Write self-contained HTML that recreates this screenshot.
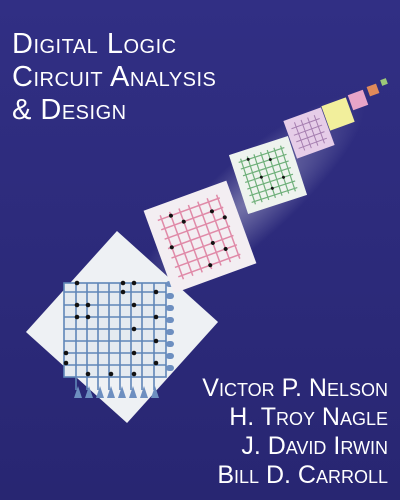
<!DOCTYPE html>
<html><head><meta charset="utf-8"><style>
html,body{margin:0;padding:0}
body{width:400px;height:500px;overflow:hidden;background:#2c2a7a;position:relative;font-family:"Liberation Serif",serif}
.t{position:absolute;color:#fff;font-variant:small-caps;white-space:nowrap}
#title{left:12px;top:28px;font-size:29px;line-height:33px;font-family:"Liberation Sans",sans-serif;letter-spacing:0.5px}
.au{right:12px;font-size:25px;font-family:"Liberation Sans",sans-serif;text-align:right}
</style></head><body>
<svg width="400" height="500" style="position:absolute;left:0;top:0">
<defs>
<radialGradient id="g" cx="50%" cy="50%" r="50%"><stop offset="0" stop-color="#fff" stop-opacity="0.7"/><stop offset="1" stop-color="#fff" stop-opacity="0"/></radialGradient>
<linearGradient id="bg" x1="0" y1="0" x2="0" y2="1"><stop offset="0" stop-color="#312f84"/><stop offset="1" stop-color="#282672"/></linearGradient>
</defs>
<rect width="400" height="500" fill="url(#bg)"/>
<ellipse cx="250" cy="200" rx="150" ry="40" transform="rotate(-42 250 200)" fill="url(#g)" opacity="0.5"/>
<g transform="translate(122 327) rotate(42)">
<rect x="-68" y="-68" width="136" height="136" fill="#eef1f4"/>
</g>
<g stroke="#5f86b8" stroke-width="1.6">
<rect x="64" y="283" width="102" height="94" fill="#e4eaf0"/>
<line x1="64" y1="292" x2="166" y2="292"/><line x1="64" y1="305" x2="166" y2="305"/><line x1="64" y1="317" x2="166" y2="317"/><line x1="64" y1="329" x2="166" y2="329"/><line x1="64" y1="341" x2="166" y2="341"/><line x1="64" y1="353" x2="166" y2="353"/><line x1="64" y1="365" x2="166" y2="365"/>
<line x1="76" y1="283" x2="76" y2="390"/><line x1="87" y1="283" x2="87" y2="390"/><line x1="98" y1="283" x2="98" y2="390"/><line x1="109" y1="283" x2="109" y2="390"/><line x1="120" y1="283" x2="120" y2="390"/><line x1="131" y1="283" x2="131" y2="390"/><line x1="142" y1="283" x2="142" y2="390"/><line x1="154" y1="283" x2="154" y2="390"/>
</g>
<g fill="#6d8fc0">
<path d="M74 398l4-12 4 12zM85 398l4-12 4 12zM96 398l4-12 4 12zM107 398l4-12 4 12zM118 398l4-12 4 12zM129 398l4-12 4 12zM140 398l4-12 4 12zM151 398l4-12 4 12z"/>
<rect x="166" y="281" width="8" height="6" rx="3"/><rect x="166" y="293" width="8" height="6" rx="3"/><rect x="166" y="305" width="8" height="6" rx="3"/><rect x="166" y="317" width="8" height="6" rx="3"/><rect x="166" y="329" width="8" height="6" rx="3"/><rect x="166" y="341" width="8" height="6" rx="3"/><rect x="166" y="353" width="8" height="6" rx="3"/><rect x="166" y="365" width="8" height="6" rx="3"/>
</g>
<g fill="#111">
<circle cx="77" cy="283" r="2.3"/><circle cx="123" cy="283" r="2.3"/><circle cx="134" cy="283" r="2.3"/><circle cx="77" cy="305" r="2.3"/><circle cx="88" cy="305" r="2.3"/><circle cx="134" cy="305" r="2.3"/><circle cx="77" cy="317" r="2.3"/><circle cx="88" cy="317" r="2.3"/><circle cx="156" cy="317" r="2.3"/><circle cx="134" cy="329" r="2.3"/><circle cx="156" cy="341" r="2.3"/><circle cx="66" cy="353" r="2.3"/><circle cx="134" cy="353" r="2.3"/><circle cx="66" cy="363" r="2.3"/><circle cx="156" cy="363" r="2.3"/><circle cx="88" cy="374" r="2.3"/><circle cx="111" cy="374" r="2.3"/><circle cx="134" cy="374" r="2.3"/><circle cx="156" cy="292" r="2.3"/><circle cx="123" cy="292" r="2.3"/>
</g>
<g transform="translate(200 237) rotate(-20)">
<rect x="-44" y="-44" width="88" height="88" fill="#f3eef2"/>
<g stroke="#e08aa8" stroke-width="1.5"><path d="M-34 -30h66M-34 -20h66M-34 -10h66M-34 0h66M-34 10h66M-34 20h66M-34 30h66M-30 -34v68M-20 -34v68M-10 -34v68M0 -34v68M10 -34v68M20 -34v68M30 -34v68"/></g>
<g fill="#111"><circle cx="-20" cy="-30" r="2"/><circle cx="-10" cy="-20" r="2"/><circle cx="20" cy="-20" r="2"/><circle cx="-30" cy="0" r="2"/><circle cx="10" cy="10" r="2"/><circle cx="30" cy="-10" r="2"/><circle cx="0" cy="30" r="2"/><circle cx="20" cy="20" r="2"/></g>
</g>
<g transform="translate(268 175) rotate(-18)">
<rect x="-31" y="-31" width="62" height="62" fill="#eef3ee"/>
<g stroke="#6fb07a" stroke-width="1.2"><path d="M-24 -21h48M-24 -14h48M-24 -7h48M-24 0h48M-24 7h48M-24 14h48M-24 21h48M-21 -24v48M-14 -24v48M-7 -24v48M0 -24v48M7 -24v48M14 -24v48M21 -24v48"/></g>
<g fill="#111"><circle cx="-14" cy="-21" r="1.5"/><circle cx="7" cy="-14" r="1.5"/><circle cx="-7" cy="0" r="1.5"/><circle cx="14" cy="7" r="1.5"/><circle cx="0" cy="14" r="1.5"/></g>
</g>
<g transform="translate(309 133) rotate(-20)"><rect x="-20" y="-20" width="40" height="40" fill="#e6cde8"/><g stroke="#a67fb0" stroke-width="1"><path d="M-15 -10h30M-15 -3h30M-15 4h30M-15 11h30M-10 -15v30M-3 -15v30M4 -15v30M11 -15v30"/></g></g>
<g transform="translate(338 114) rotate(-20)"><rect x="-13" y="-13" width="26" height="26" fill="#f2ef9c"/></g>
<g transform="translate(358 100) rotate(-20)"><rect x="-8" y="-8" width="16" height="16" fill="#e8a4c8"/></g>
<g transform="translate(373 90) rotate(-20)"><rect x="-5" y="-5" width="10" height="10" fill="#e08a5a"/></g>
<g transform="translate(384 82) rotate(-20)"><rect x="-3" y="-3" width="6" height="6" fill="#9cc878"/></g>
</svg>
<div class="t" id="title">Digital Logic<br>Circuit Analysis<br>&amp; Design</div>
<div class="t au" style="top:374px">Victor P. Nelson</div>
<div class="t au" style="top:403px">H. Troy Nagle</div>
<div class="t au" style="top:432px">J. David Irwin</div>
<div class="t au" style="top:461px">Bill D. Carroll</div>
</body></html>
